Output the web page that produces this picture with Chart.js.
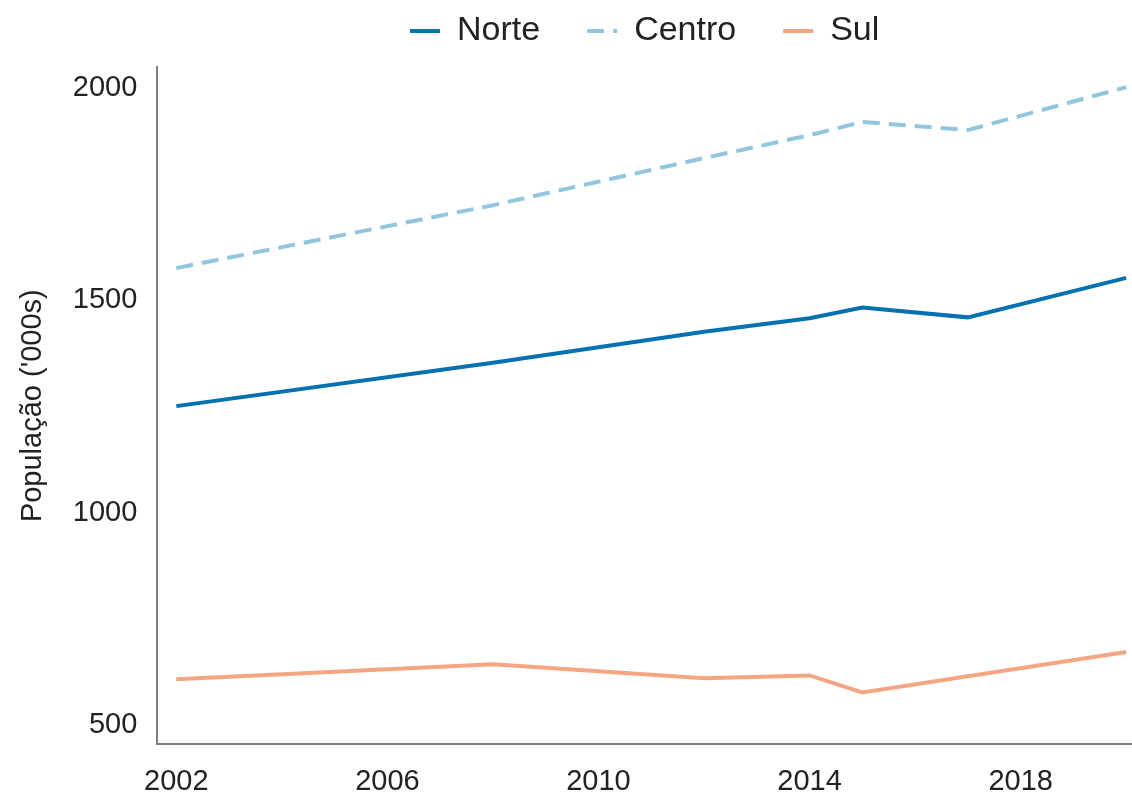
<!DOCTYPE html>
<html>
<head>
<meta charset="utf-8">
<script src="https://cdn.jsdelivr.net/npm/chart.js@4"></script>
<style>
  html, body { margin: 0; padding: 0; background: #fff; }
  #wrap { width: 1132px; height: 798px; position: relative; }
</style>
</head>
<body>
<div id="wrap"><canvas id="popChart"></canvas></div>
<script>
// data
const years = [2002, 2008, 2012, 2014, 2015, 2017, 2020];
const norte = [1251, 1353, 1426, 1458, 1483, 1460, 1553];
const centro = [1576, 1724, 1835, 1889, 1920, 1901, 2002];
const sul = [608, 643, 610, 617, 577, 615, 672];

const xTicks = [2002, 2006, 2010, 2014, 2018];
const yTicks = [500, 1000, 1500, 2000];

const fontFamily = "'Liberation Sans', Arial, sans-serif";
const textColor = '#222';
const axisColor = '#7f7f7f';

function toPoints(vals) {
  return years.map((yr, i) => ({ x: yr, y: vals[i] }));
}

// legend samples: take dash + width from the dataset, not the points
function legendLabels(chart) {
  const items = Chart.defaults.plugins.legend.labels.generateLabels(chart);
  items.forEach(item => {
    const ds = chart.data.datasets[item.datasetIndex];
    item.lineDash = ds.borderDash || [];
    item.lineWidth = ds.borderWidth;
    item.strokeStyle = ds.borderColor;
    item.pointStyle = 'line';
  });
  return items;
}

function initChart() {
  const ctx = document.getElementById('popChart').getContext('2d');
  new Chart(ctx, {
    type: 'line',
    data: {
      datasets: [{
        label: 'Norte',
        data: toPoints(norte),
        borderColor: '#0571b0',
        backgroundColor: '#0571b0',
        borderWidth: 4,
        pointRadius: 0,
        tension: 0,
      }, {
        label: 'Centro',
        data: toPoints(centro),
        borderColor: '#92c5de',
        backgroundColor: '#92c5de',
        borderWidth: 4,
        borderDash: [17, 9],
        pointRadius: 0,
        tension: 0,
      }, {
        label: 'Sul',
        data: toPoints(sul),
        borderColor: '#f4a582',
        backgroundColor: '#f4a582',
        borderWidth: 4,
        pointRadius: 0,
        tension: 0,
      }]
    },
    options: {
      responsive: true,
      maintainAspectRatio: false,
      animation: false,
      layout: { padding: { top: -33, left: 0, right: 0, bottom: -21 } },
      plugins: {
        legend: {
          position: 'top',
          fullSize: false,
          labels: {
            usePointStyle: true,
            pointStyle: 'line',
            pointStyleWidth: 30,
            padding: 47,
            color: textColor,
            font: { family: fontFamily, size: 34 },
            generateLabels: legendLabels
          }
        },
        // empty spacer between legend and plot
        title: {
          display: true,
          text: '',
          weight: 500,
          padding: { top: 8, bottom: 0 },
          font: { size: 1 }
        },
        tooltip: { enabled: false }
      },
      scales: {
        x: {
          type: 'linear',
          min: 2001.64,
          max: 2020.11,
          grid: { display: false, drawTicks: false },
          border: { display: true, color: axisColor, width: 2 },
          afterBuildTicks: (scale) => { scale.ticks = xTicks.map(v => ({ value: v })); },
          ticks: {
            padding: 20,
            color: textColor,
            font: { family: fontFamily, size: 29 },
            maxRotation: 0,
            callback: (v) => String(v)
          }
        },
        y: {
          min: 455,
          max: 2049,
          grid: { display: false, drawTicks: false },
          border: { display: true, color: axisColor, width: 2 },
          afterBuildTicks: (scale) => { scale.ticks = yTicks.map(v => ({ value: v })); },
          ticks: {
            padding: 20,
            color: textColor,
            font: { family: fontFamily, size: 29 },
            callback: (v) => String(v)
          },
          title: {
            display: true,
            text: "População ('000s)",
            color: textColor,
            font: { family: fontFamily, size: 29 },
            padding: { top: 16, bottom: 2 }
          }
        }
      }
    }
  });
}

window.addEventListener('load', initChart);
</script>
</body>
</html>
